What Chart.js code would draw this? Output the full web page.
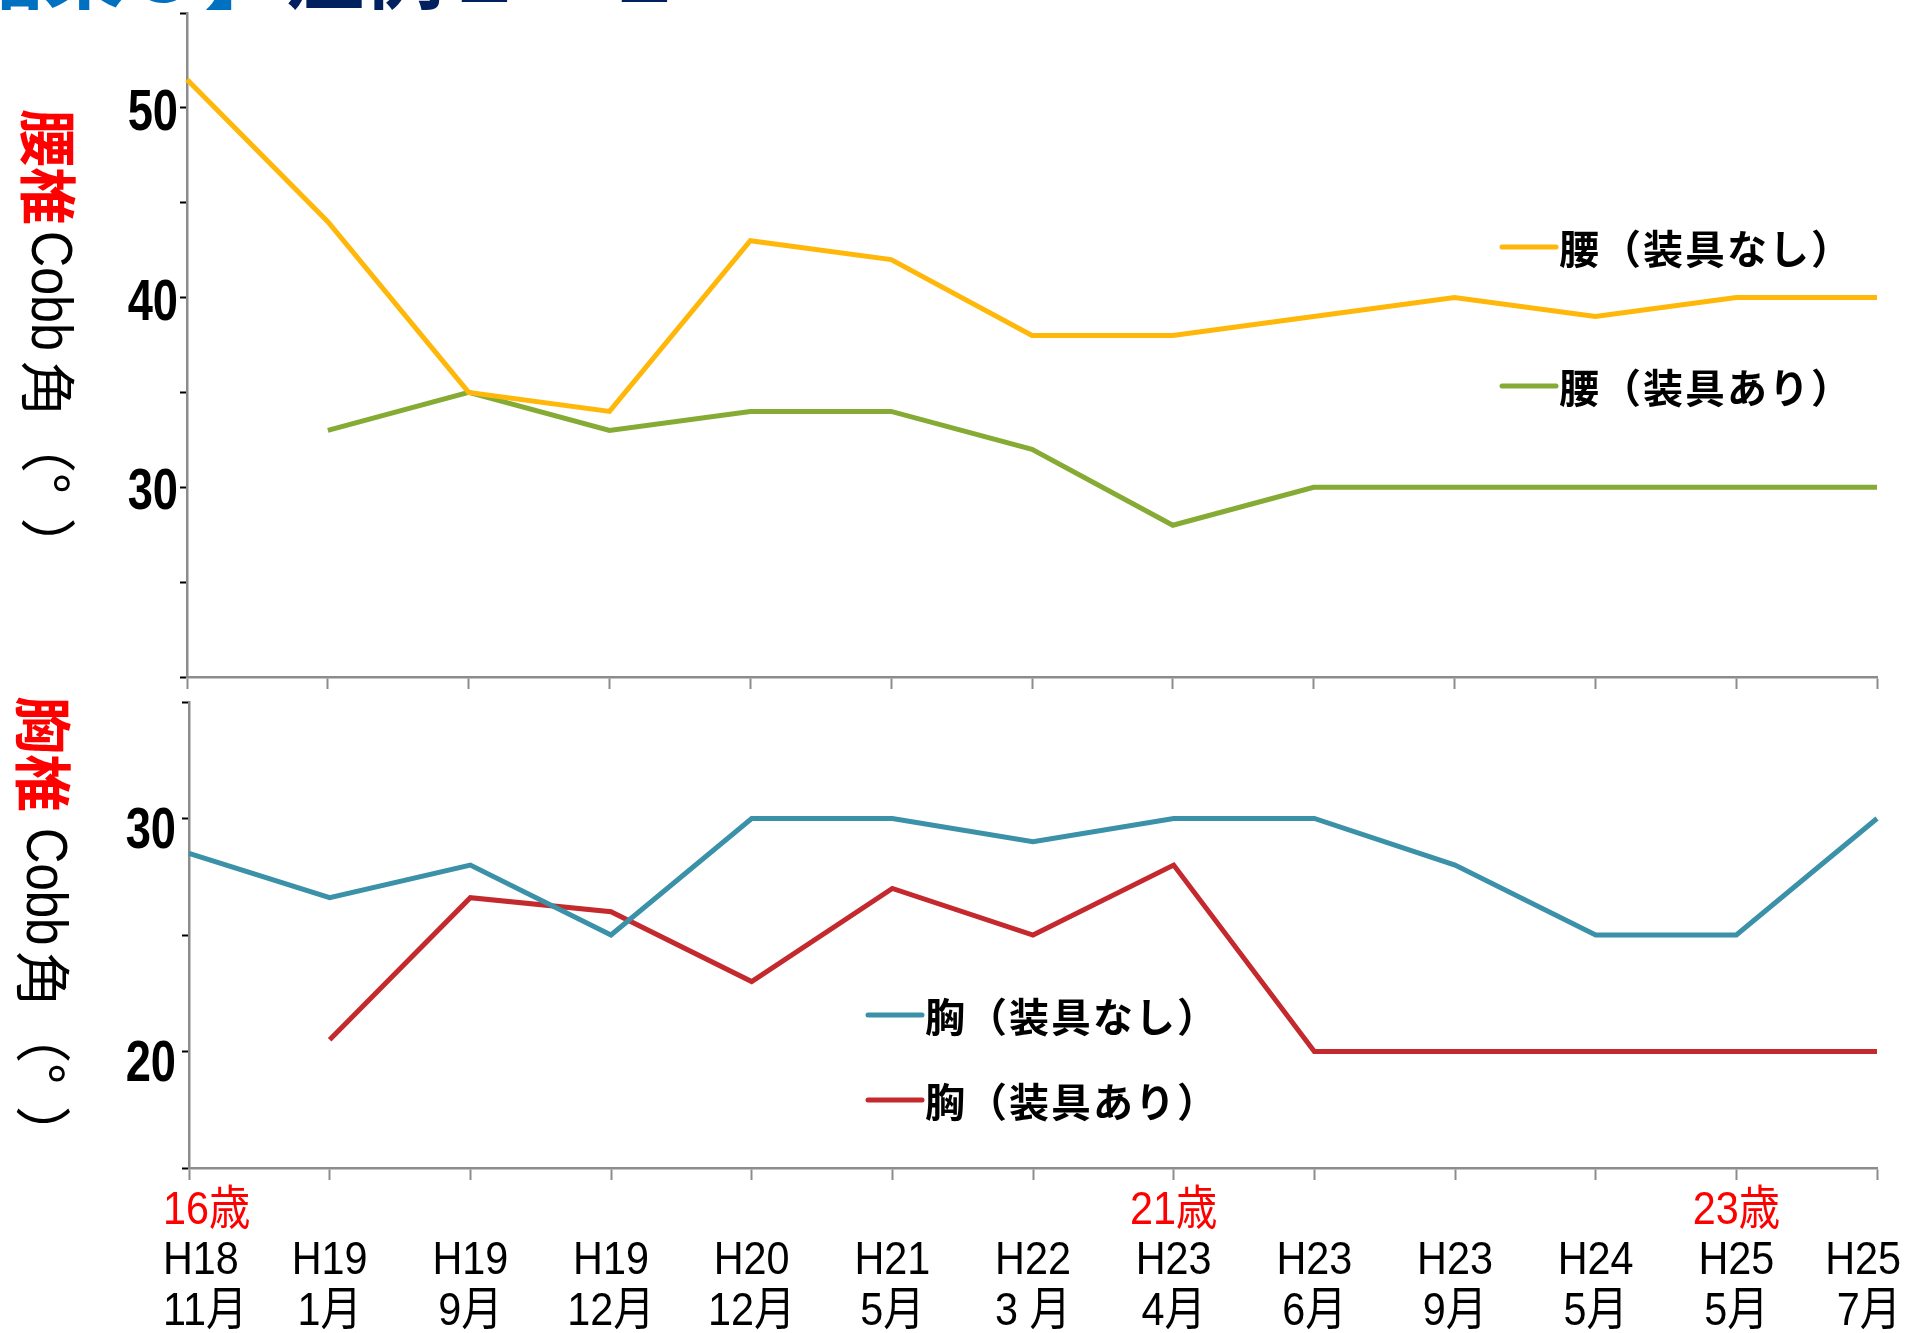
<!DOCTYPE html>
<html>
<head>
<meta charset="utf-8">
<script src="https://cdn.jsdelivr.net/npm/chart.js@4.4.0/dist/chart.umd.min.js"></script>
<style>
  html, body { margin: 0; padding: 0; background: #fff; }
  #wrap { position: relative; width: 1905px; height: 1333px; overflow: hidden; }
  #topWrap { position: absolute; left: 0; top: 0; }
  #botWrap { position: absolute; left: 0; top: 680px; }
</style>
</head>
<body>
<div id="wrap">
  <div id="topWrap"><canvas id="lumbarChart" width="1905" height="700"></canvas></div>
  <div id="botWrap"><canvas id="thoracicChart" width="1905" height="653"></canvas></div>
</div>
<script>
// visit dates (era year / month) and age markers under the x axis
const dates = [
  ["H18", "11月"], ["H19", "1月"], ["H19", "9月"], ["H19", "12月"], ["H20", "12月"],
  ["H21", "5月"], ["H22", "3 月"], ["H23", "4月"], ["H23", "6月"], ["H23", "9月"],
  ["H24", "5月"], ["H25", "5月"], ["H25", "7月"]
];
const ages = ["16歳", "", "", "", "", "", "", "21歳", "", "", "", "23歳", ""];

// Cobb angles (degrees)
const lumbarNoBrace = [51.5, 44, 35, 34, 43, 42, 38, 38, 39, 40, 39, 40, 40];
const lumbarBrace = [null, 33, 35, 33, 34, 34, 32, 28, 30, 30, 30, 30, 30];
const thoracicNoBrace = [28.5, 26.6, 28, 25, 30, 30, 29, 30, 30, 28, 25, 25, 30];
const thoracicBrace = [null, 20.5, 26.6, 26, 23, 27, 25, 28, 20, 20, 20, 20, 20];

// labelled y ticks
const lumbarTicks = [30, 40, 50];
const thoracicTicks = [20, 30];

const SANS = "'Liberation Sans', Arial, 'Noto Sans CJK JP', sans-serif";
const CJK = "'Noto Sans CJK JP', 'Noto Sans CJK SC', sans-serif";
const AXIS_GREY = "#8c8c8c";

// draw text squeezed horizontally (the original uses a condensed face)
function squeezed(ctx, text, x, y, sx, align) {
  ctx.save();
  ctx.translate(x, y);
  ctx.scale(sx, 1);
  ctx.textAlign = align;
  ctx.fillText(text, 0, 0);
  ctx.restore();
}

// vertical axis title, rotated clockwise, in several coloured parts
const sideTitle = {
  id: "sideTitle",
  afterDraw(chart, args, opts) {
    const ctx = chart.ctx;
    ctx.save();
    ctx.translate(opts.x, opts.y);
    ctx.rotate(Math.PI / 2);
    ctx.textBaseline = "middle";
    let pos = 0;
    opts.parts.forEach((p) => {
      const sq = p.squeeze || 1;
      ctx.font = p.font;
      ctx.fillStyle = p.color;
      squeezed(ctx, p.text, pos, 0, sq, "left");
      pos += ctx.measureText(p.text).width * sq + (p.gap || 0);
    });
    ctx.restore();
  }
};

// y tick labels, only the labelled values
const yLabels = {
  id: "yLabels",
  afterDraw(chart, args, opts) {
    const ctx = chart.ctx;
    const ys = chart.scales.y;
    ctx.save();
    ctx.font = "bold 58px " + SANS;
    ctx.fillStyle = "#000";
    ctx.textBaseline = "middle";
    opts.values.forEach((v) => {
      squeezed(ctx, String(v), opts.right, ys.getPixelForValue(v) + opts.shift, 0.78, "right");
    });
    ctx.restore();
  }
};

// legend placed inside the plot, one entry per dataset
const lineLegend = {
  id: "lineLegend",
  afterDraw(chart, args, opts) {
    const ctx = chart.ctx;
    ctx.save();
    chart.data.datasets.forEach((ds, i) => {
      const y = opts.y[i];
      ctx.strokeStyle = ds.borderColor;
      ctx.lineWidth = 5;
      ctx.lineCap = "round";
      ctx.beginPath();
      ctx.moveTo(opts.x, y);
      ctx.lineTo(opts.x + 54, y);
      ctx.stroke();
      ctx.fillStyle = "#000";
      ctx.font = "bold 40px " + CJK;
      ctx.textBaseline = "middle";
      ctx.textAlign = "left";
      [...ds.label].forEach((ch, k) => {
        ctx.fillText(ch, opts.x + 57 + k * 42, y + 2);
      });
    });
    ctx.restore();
  }
};

// cut-off slide heading at the very top
const heading = {
  id: "heading",
  afterDraw(chart) {
    const ctx = chart.ctx;
    ctx.save();
    ctx.font = "bold 80px " + CJK;
    ctx.textBaseline = "ideographic";
    ctx.textAlign = "right";
    ctx.fillStyle = "#0070C0";
    ctx.fillText("【結果３】", 284, 12);
    ctx.textAlign = "left";
    ctx.fillStyle = "#002060";
    ctx.fillText("症例１－１", 284, 12);
    ctx.restore();
  }
};

// three-line date labels under the lower chart
const dateLabels = {
  id: "dateLabels",
  afterDraw(chart) {
    const ctx = chart.ctx;
    const xs = chart.scales.x;
    const W = chart.width;
    const sx = 0.88;
    ctx.save();
    ctx.font = "47px " + SANS;
    ctx.textBaseline = "middle";
    dates.forEach((d, i) => {
      const lines = [ages[i], d[0], d[1]];
      const colors = ["#ff0000", "#000", "#000"];
      const ys = [531, 581, 632];
      lines.forEach((t, j) => {
        if (!t) return;
        const w = ctx.measureText(t).width * sx;
        let cx = xs.getPixelForValue(i);
        if (cx - w / 2 < 163) cx = 163 + w / 2;
        if (cx + w / 2 > W - 4) cx = W - 4 - w / 2;
        ctx.fillStyle = colors[j];
        squeezed(ctx, t, cx, ys[j], sx, "center");
      });
    });
    ctx.restore();
  }
};

function lineSet(label, data, color) {
  return {
    label,
    data,
    borderColor: color,
    backgroundColor: color,
    borderWidth: 5,
    pointRadius: 0,
    tension: 0,
    spanGaps: false
  };
}

function yScale(min, max, width) {
  return {
    min,
    max,
    ticks: { stepSize: 5, autoSkip: false, display: false },
    grid: { drawOnChartArea: false, tickLength: 7, tickColor: "#000", tickWidth: 2 },
    border: { color: AXIS_GREY, width: 2.5 },
    afterFit(s) {
      s.width = width;
      s.paddingTop = 0;
      s.paddingBottom = 0;
    }
  };
}

function xScale(height) {
  return {
    offset: false,
    ticks: { display: false },
    grid: { drawOnChartArea: false, offset: false, tickLength: 12, tickColor: AXIS_GREY, tickWidth: 2 },
    border: { color: AXIS_GREY, width: 2.5 },
    afterFit(s) {
      s.height = height;
      s.paddingLeft = 0;
      s.paddingRight = 0;
    }
  };
}

const categoryLabels = dates.map((d) => d.join(" "));

// Lumbar chart
new Chart(document.getElementById("lumbarChart"), {
  type: "line",
  data: {
    labels: categoryLabels,
    datasets: [
      lineSet("腰（装具なし）", lumbarNoBrace, "#FFB70A"),
      lineSet("腰（装具あり）", lumbarBrace, "#86AB34")
    ]
  },
  options: {
    responsive: false,
    animation: false,
    layout: { padding: { top: 13, right: 28, left: 0, bottom: 0 } },
    scales: { x: xScale(23), y: yScale(20, 55, 187) },
    plugins: {
      legend: { display: false },
      tooltip: { enabled: false },
      yLabels: { values: lumbarTicks, right: 178, shift: 6 },
      sideTitle: {
        x: 48, y: 109,
        parts: [
          { text: "腰椎", color: "#ff0000", font: "bold 58px " + CJK, gap: 6 },
          { text: "Cobb", color: "#000", font: "57px " + SANS, squeeze: 0.88, gap: 10 },
          { text: "角（°", color: "#000", font: "56px " + CJK, gap: 24 },
          { text: "）", color: "#000", font: "56px " + CJK }
        ]
      },
      lineLegend: { x: 1502, y: [247, 386] }
    }
  },
  plugins: [sideTitle, yLabels, lineLegend, heading]
});

// Thoracic chart
new Chart(document.getElementById("thoracicChart"), {
  type: "line",
  data: {
    labels: categoryLabels,
    datasets: [
      lineSet("胸（装具なし）", thoracicNoBrace, "#3A91A8"),
      lineSet("胸（装具あり）", thoracicBrace, "#C4292E")
    ]
  },
  options: {
    responsive: false,
    animation: false,
    layout: { padding: { top: 22, right: 28, left: 0, bottom: 0 } },
    scales: { x: xScale(165), y: yScale(15, 35, 189) },
    plugins: {
      legend: { display: false },
      tooltip: { enabled: false },
      yLabels: { values: thoracicTicks, right: 176, shift: 13 },
      sideTitle: {
        x: 43, y: 16,
        parts: [
          { text: "胸椎", color: "#ff0000", font: "bold 58px " + CJK, gap: 16 },
          { text: "Cobb", color: "#000", font: "57px " + SANS, squeeze: 0.86, gap: 6 },
          { text: "角（°", color: "#000", font: "56px " + CJK, gap: 22 },
          { text: "）", color: "#000", font: "56px " + CJK }
        ]
      },
      lineLegend: { x: 868, y: [335, 420] }
    }
  },
  plugins: [sideTitle, yLabels, lineLegend, dateLabels]
});
</script>
</body>
</html>
